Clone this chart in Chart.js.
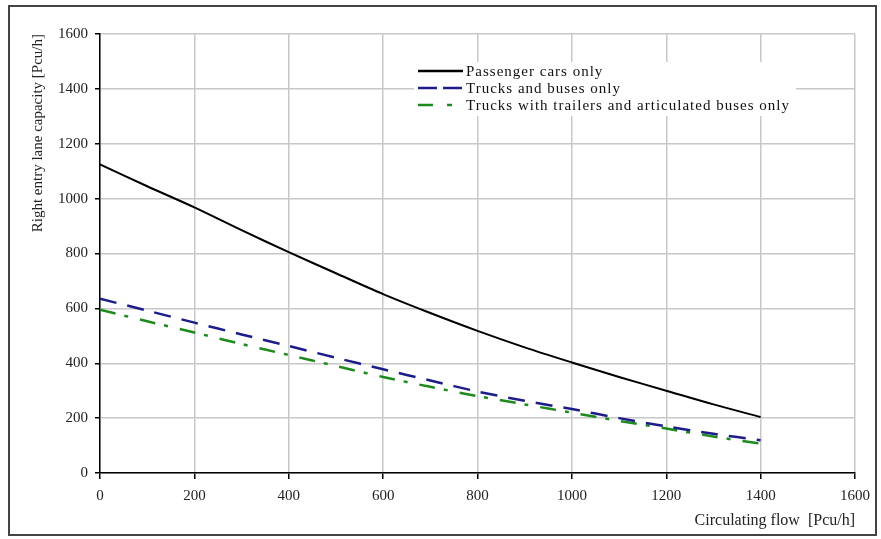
<!DOCTYPE html>
<html>
<head>
<meta charset="utf-8">
<script src="https://cdn.jsdelivr.net/npm/chart.js@4/dist/chart.umd.min.js"></script>
<style>
  html, body { margin: 0; padding: 0; background: #fff; }
  #wrap { position: relative; width: 881px; height: 539px; }
  #frame { position: absolute; left: 8px; top: 5px; width: 869px; height: 531px; border: 2px solid #444; box-sizing: border-box; pointer-events: none; }
</style>
</head>
<body>
<div id="wrap">
  <canvas id="c" width="881" height="539"></canvas>
  <div id="frame"></div>
</div>
<script>
// values
const flow = [0, 100, 200, 300, 400, 500, 600, 700, 800, 900, 1000, 1100, 1200, 1300, 1400];
const passengerCars = [1125, 1045, 968, 885, 805, 728, 652, 583, 518, 458, 403, 350, 300, 250, 204];
const trucksBuses = [635, 592, 548, 505, 463, 420, 378, 337, 297, 263, 233, 200, 170, 143, 119];
const trucksTrailers = [595, 553, 512, 470, 430, 390, 350, 314, 280, 250, 220, 190, 162, 133, 107];
const seriesNames = ['Passenger cars only', 'Trucks and buses only', 'Trucks with trailers and articulated buses only'];
const xTicks = [0, 200, 400, 600, 800, 1000, 1200, 1400, 1600];
const yTicks = [0, 200, 400, 600, 800, 1000, 1200, 1400, 1600];

const pts = arr => arr.map((v, i) => ({ x: flow[i], y: v }));
const serif = 'Liberation Serif, Times New Roman, serif';

// legend box inside the plot
const boxLegend = {
  id: 'boxLegend',
  afterDatasetsDraw(chart) {
    const ctx = chart.ctx;
    ctx.save();
    ctx.fillStyle = '#fff';
    ctx.fillRect(414, 62, 382, 54);
    chart.data.datasets.forEach((ds, i) => {
      const y = 71 + i * 17;
      ctx.strokeStyle = ds.borderColor;
      ctx.lineWidth = 2.5;
      ctx.setLineDash(ds.legendDash || []);
      ctx.beginPath();
      ctx.moveTo(418, y);
      ctx.lineTo(463, y);
      ctx.stroke();
      ctx.setLineDash([]);
      ctx.fillStyle = '#111';
      ctx.font = '15px ' + serif;
      ctx.letterSpacing = '1px';
      ctx.textBaseline = 'middle';
      ctx.fillText(ds.label, 466, y + 1);
      ctx.letterSpacing = '0px';
    });
    ctx.restore();
  }
};

new Chart(document.getElementById('c'), {
  type: 'line',
  data: {
    datasets: [
      { label: seriesNames[0], data: pts(passengerCars), borderColor: '#000', borderWidth: 2, pointRadius: 0, tension: 0.3 },
      { label: seriesNames[1], data: pts(trucksBuses), borderColor: '#1c1c8a', borderWidth: 2.5, borderDash: [17, 11], legendDash: [19, 6], pointRadius: 0, tension: 0.3 },
      { label: seriesNames[2], data: pts(trucksTrailers), borderColor: '#1e8a1e', borderWidth: 2.5, borderDash: [16, 9, 4, 12], legendDash: [15, 14, 5, 20], pointRadius: 0, tension: 0.3 }
    ]
  },
  options: {
    responsive: false,
    animation: false,
    layout: { padding: { left: 0, top: 34, right: 26, bottom: 0 } },
    plugins: { legend: { display: false }, tooltip: { enabled: false } },
    scales: {
      x: {
        type: 'linear', min: 0, max: 1600,
        afterFit: s => { s.height = 66; },
        afterBuildTicks: s => { s.ticks = xTicks.map(v => ({ value: v })); },
        grid: { color: '#c8c8c8', lineWidth: 1.5, tickLength: 6, tickColor: '#000' },
        border: { color: '#000', width: 1.5 },
        ticks: { color: '#222', font: { family: serif, size: 15 }, padding: 8, maxRotation: 0, callback: v => String(v) },
        title: { display: true, text: 'Circulating flow  [Pcu/h]', align: 'end', color: '#222', font: { family: serif, size: 16 }, padding: { top: 0, bottom: 9 } }
      },
      y: {
        min: 0, max: 1600,
        afterFit: s => { s.width = 100; },
        afterBuildTicks: s => { s.ticks = yTicks.map(v => ({ value: v })); },
        grid: { color: '#c8c8c8', lineWidth: 1.5, tickLength: 5, tickColor: '#000' },
        border: { color: '#000', width: 1.5 },
        ticks: { color: '#222', font: { family: serif, size: 15 }, padding: 7, callback: v => String(v) },
        title: { display: true, text: 'Right entry lane capacity [Pcu/h]', align: 'end', color: '#222', font: { family: serif, size: 15 }, padding: { top: 29, bottom: 0 } }
      }
    }
  },
  plugins: [boxLegend]
});
</script>
</body>
</html>
